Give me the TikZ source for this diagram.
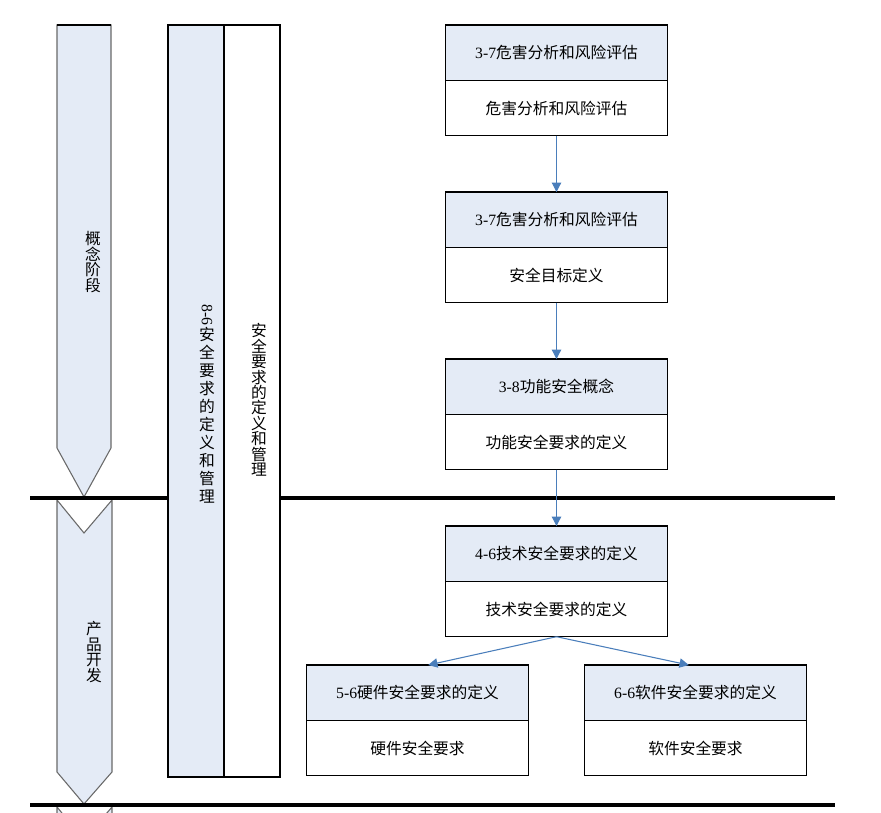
\documentclass[tikz,border=0pt]{standalone}
\usepackage{fontspec}
\setmainfont{Noto Sans CJK SC}
\newfontfamily\latinfont{Liberation Serif}
\usetikzlibrary{positioning,arrows.meta}
\definecolor{phaseblue}{RGB}{228,235,246}
\definecolor{flowblue}{RGB}{74,126,187}
\definecolor{phasegray}{RGB}{105,105,105}

\begin{document}
\begin{tikzpicture}[x=0.75pt,y=-0.75pt,
  font=\fontsize{11.8pt}{11.6pt}\selectfont,
  headbox/.style={draw, line width=0.9pt, fill=phaseblue, minimum width=167pt,
    minimum height=41.5pt, inner sep=0pt, outer sep=0pt},
  bodybox/.style={headbox, fill=white},
  column/.style={draw, line width=0.9pt, minimum width=42pt, minimum height=564pt,
    inner sep=0pt, outer sep=0pt},
  chevron/.style={draw=phasegray, line width=0.8pt, fill=phaseblue},
  flow/.style={-{Triangle[length=7pt,width=7pt]}, draw=flowblue, line width=0.8pt},
  vtext/.style={align=center, inner sep=0pt}]
\clip (0,0) rectangle (881,813);

% Phase chevrons
\draw[chevron] (57,25) -- (111,25) -- (111,448) -- (84,497) -- (57,448) -- cycle;
\draw[line width=0.8pt] (57,25) -- (111,25);
\draw[chevron] (57,500) -- (84,533) -- (112,500) -- (112,772) -- (84,804) -- (57,772) -- cycle;
\draw[chevron] (57,807) -- (84,840) -- (112,807) -- (112,900) -- (57,900) -- cycle;
\node[vtext] (concept) at (93,262) {概\\念\\阶\\段};
\node[vtext] (develop) at (94,652) {产\\品\\开\\发};

% Phase borders
\draw[line width=3pt] (30,498) -- (835,498);
\draw[line width=3pt] (30,805) -- (835,805);

% Supporting process columns
\node[column, fill=phaseblue] (spec) at (196,401) {};
\node[column, fill=white] (mgmt) at (252,401) {};
\node[vtext, font=\fontsize{11.8pt}{13.5pt}\selectfont] (spec-label) at (207,404)
  {\rotatebox[origin=c]{-90}{\latinfont 8-6}\\安\\全\\要\\求\\的\\定\\义\\和\\管\\理};
\node[vtext] (mgmt-label) at (259,400) {安\\全\\要\\求\\的\\定\\义\\和\\管\\理};

% Work products
\node[headbox] (hara) at (556.5,52.7) {{\latinfont 3-7}危害分析和风险评估};
\node[bodybox, below=0pt of hara] (hara-b) {危害分析和风险评估};
\node[headbox] (sg) at (556.5,219.7) {{\latinfont 3-7}危害分析和风险评估};
\node[bodybox, below=0pt of sg] (sg-b) {安全目标定义};
\node[headbox] (fsc) at (556.5,386.7) {{\latinfont 3-8}功能安全概念};
\node[bodybox, below=0pt of fsc] (fsc-b) {功能安全要求的定义};
\node[headbox] (tsr) at (556.5,553.7) {{\latinfont 4-6}技术安全要求的定义};
\node[bodybox, below=0pt of tsr] (tsr-b) {技术安全要求的定义};
\node[headbox] (hw) at (417.5,692.7) {{\latinfont 5-6}硬件安全要求的定义};
\node[bodybox, below=0pt of hw] (hw-b) {硬件安全要求};
\node[headbox] (sw) at (695.5,692.7) {{\latinfont 6-6}软件安全要求的定义};
\node[bodybox, below=0pt of sw] (sw-b) {软件安全要求};

% Flow
\draw[flow] (hara-b) -- (sg);
\draw[flow] (sg-b) -- (fsc);
\draw[flow] (fsc-b) -- (tsr);
\draw[flow] (tsr-b.south) -- ([xshift=8]hw.north);
\draw[flow] (tsr-b.south) -- ([xshift=-5]sw.north);
\end{tikzpicture}
\end{document}
